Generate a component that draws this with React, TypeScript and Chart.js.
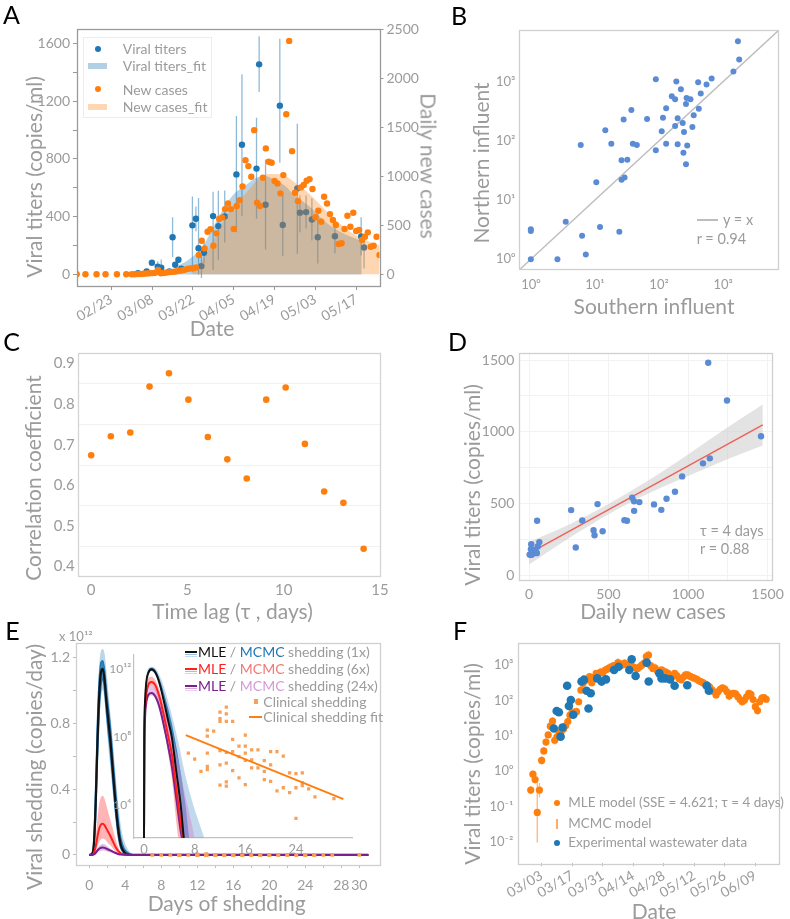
import React, { useEffect, useRef } from 'react';
import { Chart, registerables } from 'chart.js';

Chart.register(...registerables);

const FONT = 'Lato, "Noto Sans", sans-serif';
const TICK_C = '#9b9b9b';
const TITLE_C = '#9b9b9b';
const BLUE = '#1f77b4';
const ORANGE = '#ff7f0e';
const STEEL = '#5b8bd4';

// ---------------- Panel A ----------------
const A_TITER_DAY = [9.1, 12.1, 13.9, 15.9, 17.1, 19.9, 21.0, 21.9, 23.0, 24.0, 27.8, 29.0, 29.9, 30.9, 31.8, 34.9, 36.7, 38.9, 42.9, 44.8, 49.8, 50.7, 52.9, 57.8, 58.8, 63.8, 64.7, 66.8, 68.8, 70.8, 76.7, 85.7, 86.7];
const A_TITER = [9, 21, 81, 53, 46, 21, 258, 67, 102, 40, 340, 386, 182, 58, 150, 404, 335, 402, 693, 899, 733, 1455, 483, 1169, 342, 596, 428, 432, 381, 258, 265, 263, 187];
const A_TITER_LO = [5, 15, 70, 20, 7, 15, 120, 50, 85, 30, 16, 300, 0, -25, 80, 30, 99, 222, 293, 404, 385, 1263, 173, 774, 130, 143, 293, 319, 236, 76, 146, 132, 42];
const A_TITER_HI = [13, 27, 92, 90, 104, 27, 397, 85, 118, 50, 540, 470, 530, 190, 220, 572, 579, 582, 1097, 1386, 1085, 1650, 797, 1633, 560, 1044, 547, 547, 527, 443, 388, 397, 249];
const A_CASE_EARLY_DAY = [-11.9, -8.9, -5.1, -2.0, 1.9, 5.1];
const A_CASE_EARLY = [0, 0, 0, 0, 0, 0];
const A_CASE_FIRST_DAILY = 7;
const A_CASES_DAILY = [0, 0, 2, 3, 5, 8, 10, 12, 15, 45, 10, 14, 18, 22, 25, 28, 35, 38, 45, 55, 60, 62, 70, 197, 343, 265, 435, 460, 292, 419, 565, 582, 667, 725, 667, 463, 698, 759, 899, 1168, 1107, 998, 1475, 732, 698, 988, 1288, 1151, 1141, 954, 930, 828, 1015, 1638, 2388, 1260, 834, 749, 889, 913, 957, 974, 872, 583, 650, 538, 793, 725, 616, 555, 504, 310, 317, 463, 599, 487, 630, 443, 453, 351, 384, 429, 282, 292, 384, 197];
const A_TFIT_DAY = [14, 18, 21, 23.3, 25.6, 27.8, 31.3, 35, 39.2, 42.5, 46.1, 50.6, 53, 56, 59.6, 63, 67.7, 73.4, 79, 85.9];
const A_TFIT = [0, 4, 20, 64, 90, 122, 191, 330, 480, 565, 618, 676, 680, 655, 615, 545, 475, 365, 290, 230];
const A_CFIT_DAY = [27.8, 29, 31.3, 35, 39.2, 42.5, 46.1, 50.6, 54, 58.6, 62, 67.7, 73.4, 79, 84.7, 92];
const A_CFIT = [20, 60, 146, 350, 589, 720, 828, 981, 1025, 1020, 960, 828, 657, 504, 384, 295];
const A_DATE_TICKS = [0, 14, 28, 42, 56, 70, 84];
const A_LEFT_TICKS = [0, 200, 400, 600, 800, 1000, 1200, 1400, 1600];
const A_RIGHT_TICKS = [0, 500, 1000, 1500, 2000, 2500];

// ---------------- Panel B ----------------
const B_SOUTH = [1698, 1778, 1445, 661, 550, 447, 407, 417, 347, 331, 309, 269, 263, 245, 275, 263, 240, 234, 219, 195, 195, 178, 178, 158, 186, 129, 115, 110, 129, 89, 89, 65, 45, 39, 37, 28, 32, 26, 29, 26, 18, 14.5, 10.5, 6, 3.5, 6.3, 7.2, 12, 24, 2.6, 1, 1, 1];
const B_NORTH = [4786, 2344, 1479, 1122, 891, 631, 977, 347, 269, 170, 501, 525, 417, 141, 83, 40, 63, 200, 741, 240, 87, 178, 501, 562, 1000, 355, 245, 145, 89, 69, 1096, 234, 85, 89, 331, 229, 48, 47, 24, 22, 89, 151, 20, 85, 4.3, 2.5, 1.2, 3.5, 2.9, 1, 3.2, 3.0, 1];
const B_IDENTITY = [0.5, 10000];
const B_TICKS = [1, 10, 100, 1000];

// ---------------- Panel C ----------------
const C_LAG = [0, 1.02, 2.03, 3.03, 4.04, 5.05, 6.06, 7.07, 8.08, 9.09, 10.1, 11.1, 12.1, 13.1, 14.15];
const C_R = [0.674, 0.721, 0.730, 0.843, 0.876, 0.811, 0.719, 0.664, 0.617, 0.811, 0.841, 0.702, 0.585, 0.557, 0.444];
const C_X_TICKS = [0, 5, 10, 15];
const C_Y_TICKS = [0.4, 0.45, 0.5, 0.55, 0.6, 0.65, 0.7, 0.75, 0.8, 0.85, 0.9];

// ---------------- Panel D ----------------
const D_CASES = [1127, 1245, 1459, 1137, 1094, 963, 918, 865, 832, 786, 694, 661, 649, 661, 616, 600, 463, 431, 412, 406, 335, 294, 265, 51, 65, 55, 45, 14, 12, 4, 20, 31, 39, 49, 12];
const D_TITER = [1481, 1218, 969, 815, 780, 689, 582, 533, 456, 494, 510, 515, 540, 449, 380, 384, 307, 496, 279, 314, 382, 193, 454, 380, 231, 200, 161, 217, 182, 144, 147, 161, 177, 154, 142];
const D_FIT_X = [0, 1470];
const D_FIT_Y = [152, 1048];
const D_BAND_X = [0, 250, 500, 750, 1000, 1250, 1470];
const D_BAND_LO = [75, 258, 426, 570, 692, 811, 905];
const D_BAND_HI = [232, 352, 496, 660, 842, 1031, 1190];
const D_TICKS = [0, 250, 500, 750, 1000, 1250, 1500];

// ---------------- Panel E ----------------
const E_DAYS = [0, 0.3, 0.5, 0.7, 0.9, 1.1, 1.3, 1.5, 1.7, 1.9, 2.1, 2.3, 2.6, 2.9, 3.2, 3.5, 3.9, 4.5, 5.2, 31];
const E_MLE_1X = [0, 0.005, 0.06, 0.3, 0.68, 0.97, 1.11, 1.13, 1.06, 0.93, 0.82, 0.72, 0.52, 0.32, 0.16, 0.06, 0.015, 0, 0, 0];
const E_MLE_6X = [0, 0.001, 0.012, 0.05, 0.11, 0.16, 0.185, 0.19, 0.18, 0.16, 0.14, 0.12, 0.085, 0.05, 0.025, 0.01, 0.003, 0, 0, 0];
const E_MLE_24X = [0, 0, 0.003, 0.012, 0.027, 0.038, 0.044, 0.045, 0.043, 0.038, 0.033, 0.028, 0.02, 0.012, 0.006, 0.002, 0.001, 0, 0, 0];
const E_MC1_OUT_HI = [0, 0.02, 0.15, 0.5, 0.92, 1.15, 1.24, 1.25, 1.22, 1.12, 1.0, 0.88, 0.7, 0.5, 0.32, 0.18, 0.08, 0.02, 0.004, 0];
const E_MC1_OUT_LO = [0, 0, 0.02, 0.15, 0.45, 0.78, 0.95, 1.0, 0.93, 0.8, 0.66, 0.55, 0.38, 0.22, 0.1, 0.04, 0.008, 0, 0, 0];
const E_MC1_IN_HI = [0, 0.01, 0.09, 0.4, 0.8, 1.06, 1.17, 1.18, 1.12, 1.0, 0.9, 0.8, 0.6, 0.4, 0.22, 0.1, 0.035, 0.006, 0, 0];
const E_MC1_IN_LO = [0, 0, 0.04, 0.22, 0.58, 0.88, 1.03, 1.07, 1.0, 0.87, 0.75, 0.65, 0.46, 0.27, 0.12, 0.04, 0.01, 0, 0, 0];
const E_MC6_HI = [0, 0, 0.02, 0.1, 0.22, 0.31, 0.35, 0.36, 0.34, 0.3, 0.26, 0.22, 0.16, 0.1, 0.05, 0.02, 0.006, 0, 0, 0];
const E_MC6_LO = [0, 0, 0.004, 0.02, 0.05, 0.08, 0.095, 0.1, 0.095, 0.085, 0.07, 0.06, 0.04, 0.02, 0.01, 0.004, 0, 0, 0, 0];
const E_MC24_HI = [0, 0, 0.006, 0.02, 0.04, 0.055, 0.063, 0.066, 0.063, 0.056, 0.048, 0.04, 0.029, 0.018, 0.009, 0.003, 0.001, 0, 0, 0];
const E_MC24_LO = [0, 0, 0.001, 0.006, 0.015, 0.022, 0.026, 0.027, 0.026, 0.023, 0.02, 0.017, 0.012, 0.007, 0.003, 0.001, 0, 0, 0, 0];
const E_X_TICKS = [0, 2, 4, 6, 8, 10, 12, 14, 16, 18, 20, 22, 24, 26, 28, 30];
const E_X_LABELS = [0, 4, 8, 12, 16, 20, 24, 28, 30];
const E_Y_TICKS = [0, 0.2, 0.4, 0.6, 0.8, 1.0, 1.2];
const E_Y_LABELS = [0, 0.4, 0.8, 1.2];
// clinical shedding (log10 copies/day)
const CLIN_DAY = [7, 8, 9, 10, 10, 10, 10, 10, 11, 12, 12, 12, 12, 12, 12, 13, 13, 13, 13, 13, 13, 13, 14, 14, 14, 14, 15, 15, 15, 16, 16, 16, 16, 16, 17, 17, 17, 18, 18, 19, 19, 19, 20, 20, 20, 21, 21, 22, 22, 23, 23, 24, 24, 24, 25, 25, 25, 26, 27, 30];
const CLIN_LOG = [7.07, 6.72, 6.0, 8.42, 8.07, 7.07, 6.30, 6.11, 8.36, 9.48, 9.1, 8.94, 7.22, 6.39, 5.19, 9.77, 9.38, 8.94, 7.11, 6.49, 5.39, 5.14, 8.94, 7.88, 7.16, 6.04, 6.86, 7.48, 5.62, 8.13, 7.48, 7.07, 6.65, 5.23, 7.26, 6.68, 6.20, 7.26, 6.20, 6.63, 6.0, 5.52, 7.16, 6.39, 5.42, 7.16, 4.85, 6.90, 5.04, 5.91, 4.75, 5.87, 5.04, 3.24, 5.91, 5.33, 5.17, 4.98, 4.50, 4.40];
const CLIN_FIT_DAY = [6.6, 31.5];
const CLIN_FIT_LOG = [8.13, 4.37];
// inset (log10)
const IN_DAYS = [0, 0.05, 0.15, 0.35, 0.7, 1.2, 1.8, 2.5, 3.3, 3.8, 4.4, 5.1, 5.8, 6.3];
const IN_MLE_1X = [2, 8.0, 10.0, 11.2, 11.8, 12.0, 11.8, 11.1, 9.85, 9.0, 8.0, 6.0, 4.0, 2.0];
const IN_MLE_6X = [2, 7.5, 9.5, 10.5, 11.1, 11.25, 11.05, 10.3, 9.0, 8.1, 7.0, 5.0, 3.0, 1.5];
const IN_MLE_24X = [2, 7.0, 9.0, 10.0, 10.5, 10.6, 10.4, 9.7, 8.4, 7.5, 6.3, 4.4, 2.5, 1.5];
const IB_DAYS = [0, 0.05, 0.15, 0.35, 0.7, 1.2, 1.8, 2.5, 3.3, 4.4, 5.5, 6.5, 7.5, 8.5, 9.6];
const IB_MC1_OUT_HI = [2, 8.4, 10.4, 11.5, 12.05, 12.15, 12.05, 11.6, 10.8, 9.3, 7.6, 5.8, 4.4, 3.2, 2.0];
const IB_MC1_LO = [2, 7.9, 9.9, 11.1, 11.7, 11.9, 11.7, 11.0, 9.75, 7.7, 4.9, 1.5, 1.5, 1.5, 1.5];
const IB_MC1_IN_HI = [2, 8.2, 10.2, 11.35, 11.95, 12.08, 11.95, 11.4, 10.4, 8.8, 6.6, 4.2, 1.5, 1.5, 1.5];
const IB_MC6_HI = [2, 7.8, 9.8, 11.0, 11.5, 11.55, 11.35, 10.7, 9.6, 7.8, 5.0, 1.5, 1.5, 1.5, 1.5];
const IB_MC6_LO = [2, 7.0, 9.0, 10.2, 10.9, 11.0, 10.7, 9.8, 8.2, 5.6, 2.0, 1.5, 1.5, 1.5, 1.5];
const IB_MC24_HI = [2, 7.4, 9.4, 10.5, 10.9, 11.0, 10.85, 10.4, 9.6, 8.2, 6.5, 4.6, 3.0, 1.5, 1.5];
const IB_MC24_LO = [2, 6.8, 8.8, 9.8, 10.3, 10.45, 10.25, 9.5, 8.2, 6.0, 3.6, 1.5, 1.5, 1.5, 1.5];
const IN_X_TICKS = [0, 8, 16, 24];
const IN_Y_TICKS = [1e4, 1e8, 1e12];

// ---------------- Panel F ----------------
const F_FIRST_DAY = -5; // days after 03/03
const F_MLE_LOG = [-0.54, -0.09, -0.24, -1.17, -0.54,
  0.30, 0.57, 0.82, 1.02, 1.27, 1.41, 0.87, 0.97, 1.08, 1.13,
  1.18, 1.28, 1.40, 1.58, 1.66, 1.67, 1.68, 1.96, 2.29, 2.48,
  2.56, 2.60, 2.67, 2.50, 2.65, 2.76, 2.73, 2.80, 2.78, 2.85,
  2.88, 2.92, 2.95, 2.98, 2.96, 3.07, 3.03, 3.00, 3.05, 3.02,
  3.00, 2.97, 2.95, 2.92, 2.90, 2.95, 3.00, 3.05, 3.24, 3.28,
  2.98, 2.90, 2.92, 2.84, 2.82, 2.86, 2.82, 2.80, 2.76, 2.70,
  2.68, 2.76, 2.70, 2.62, 2.58, 2.66, 2.72, 2.72, 2.68, 2.65,
  2.63, 2.60, 2.56, 2.53, 2.50, 2.46, 2.43, 2.38, 2.30, 2.24,
  2.15, 2.25, 2.32, 2.35, 2.32, 2.24, 2.12, 2.18, 2.20, 2.18,
  2.10, 2.02, 1.96, 2.00, 2.10, 2.20, 2.17, 2.02, 1.82, 1.71,
  1.96, 2.06, 2.08, 2.03];
const F_MCMC_SPREAD = [0.12, 0.1, 0.12, 0.85, 0.2,
  0.12, 0.1, 0.1, 0.1, 0.12, 0.12, 0.12, 0.1, 0.1, 0.1,
  0.1, 0.1, 0.12, 0.1, 0.1, 0.1, 0.12, 0.1, 0.1, 0.12,
  0.1, 0.12, 0.1, 0.1, 0.12, 0.1, 0.1, 0.12, 0.1, 0.1,
  0.1, 0.12, 0.1, 0.1, 0.1, 0.12, 0.1, 0.1, 0.12, 0.1,
  0.1, 0.1, 0.12, 0.1, 0.1, 0.1, 0.12, 0.1, 0.12, 0.12,
  0.1, 0.1, 0.12, 0.1, 0.1, 0.1, 0.12, 0.1, 0.1, 0.12,
  0.1, 0.1, 0.12, 0.1, 0.1, 0.1, 0.12, 0.1, 0.1, 0.12,
  0.1, 0.1, 0.12, 0.1, 0.1, 0.1, 0.12, 0.1, 0.1, 0.12,
  0.1, 0.1, 0.12, 0.1, 0.1, 0.1, 0.12, 0.1, 0.1, 0.12,
  0.1, 0.1, 0.12, 0.1, 0.1, 0.1, 0.12, 0.1, 0.12, 0.12,
  0.1, 0.12, 0.1, 0.1];
const F_EXP_DAY = [5.6, 6.9, 7.9, 8.7, 9.6, 11.7, 12.5, 13.4, 14.5, 18.3, 19.4, 20.6, 21.5, 22.5, 25.5, 27.5, 29.5, 33.2, 35.3, 40.2, 41.3, 43.1, 48.2, 49.1, 54.0, 55.0, 56.6, 58.9, 61.0, 66.8, 75.7, 76.7];
const F_EXP = [16, 50, 46, 9.4, 17, 258, 69, 102, 39, 340, 384, 186, 59, 158, 417, 339, 391, 724, 891, 724, 1450, 490, 1168, 340, 580, 417, 417, 391, 258, 268, 258, 186];
const F_DATE_TICKS = [0, 14, 28, 42, 56, 70, 84, 98];
const F_Y_TICKS = [0.01, 0.1, 1, 10, 100, 1000];

// ---------------- helpers ----------------
const A_BASE = Date.UTC(2020, 1, 23);
const F_BASE = Date.UTC(2020, 2, 3);
const fmtDate = (base: number, d: number) => {
  const t = new Date(base + Math.round(d) * 86400000);
  return String(t.getUTCMonth() + 1).padStart(2, '0') + '/' + String(t.getUTCDate()).padStart(2, '0');
};
const SUP: Record<string, string> = { '0': '⁰', '1': '¹', '2': '²', '3': '³', '4': '⁴', '5': '⁵', '6': '⁶', '7': '⁷', '8': '⁸', '9': '⁹', '-': '⁻' };
const pow10 = (v: number) => '10' + String(Math.round(Math.log10(v))).split('').map((c) => SUP[c]).join('');
const ticksAt = (vals: number[]) => (s: any) => { s.ticks = vals.map((v) => ({ value: v })); };
const pts = (xs: number[], ys: number[]) => xs.map((x, i) => ({ x, y: ys[i] }));
const logPts = (xs: number[], ls: number[]) => xs.map((x, i) => ({ x, y: Math.pow(10, ls[i]) }));
const errSegs = (xs: number[], lo: number[], hi: number[]) => {
  const out: any[] = [];
  xs.forEach((x, i) => { out.push({ x, y: lo[i] }, { x, y: hi[i] }, { x, y: null }); });
  return out;
};
const font = (size: number) => ({ family: FONT, size });
const near = (v: number, list: number[]) => list.some((l) => Math.abs(l - v) < 1e-6);
const NOGRID = { display: false, drawTicks: false };

const framePlugin = {
  id: 'frame',
  afterDatasetsDraw(chart: any, _args: any, opts: any) {
    if (!opts || !opts.color) return;
    const { ctx, chartArea: c } = chart;
    ctx.save();
    ctx.strokeStyle = opts.color;
    ctx.lineWidth = opts.width || 1;
    ctx.strokeRect(Math.round(c.left) + 0.5, Math.round(c.top) + 0.5, Math.round(c.right - c.left), Math.round(c.bottom - c.top));
    ctx.restore();
  },
};
Chart.register(framePlugin);

const baseOpts = (padding: any, scales: any, frame?: string, frameW = 1) => ({
  responsive: false,
  animation: false,
  devicePixelRatio: 1,
  layout: { padding },
  plugins: { legend: { display: false }, tooltip: { enabled: false }, frame: { color: frame, width: frameW } },
  scales,
});

function ChartCanvas({ x, y, w, h, make }: { x: number; y: number; w: number; h: number; make: () => any }) {
  const ref = useRef<HTMLCanvasElement>(null);
  useEffect(() => {
    const chart = new Chart(ref.current as HTMLCanvasElement, make());
    return () => chart.destroy();
  }, []);
  return <canvas ref={ref} width={w} height={h} style={{ position: 'absolute', left: x, top: y, width: w, height: h }} />;
}

function T({ x, y, s = 14, c = TITLE_C, align = 'left', rot = 0, children, style }: any) {
  const tx = align === 'center' ? '-50%' : align === 'right' ? '-100%' : '0';
  return (
    <div style={{ position: 'absolute', left: x, top: y, transform: `translate(${tx},-50%) rotate(${rot}deg)`, fontSize: s, color: c, whiteSpace: 'nowrap', lineHeight: 1, fontFamily: FONT, ...style }}>
      {children}
    </div>
  );
}
const Box = ({ x, y, w, h, bg, style }: any) => <div style={{ position: 'absolute', left: x, top: y, width: w, height: h, background: bg, ...style }} />;
const Dot = ({ x, y, r, bg }: any) => <div style={{ position: 'absolute', left: x - r, top: y - r, width: 2 * r, height: 2 * r, borderRadius: '50%', background: bg }} />;

// ---------------- chart configs ----------------
const makeA = () => ({
  type: 'scatter',
  data: {
    datasets: [
      { type: 'scatter', yAxisID: 'y2', data: [...pts(A_CASE_EARLY_DAY, A_CASE_EARLY), ...A_CASES_DAILY.map((v, i) => ({ x: A_CASE_FIRST_DAILY + i, y: v }))], backgroundColor: ORANGE, borderWidth: 0, pointRadius: 3.2 },
      { type: 'line', yAxisID: 'y2', data: pts(A_CFIT_DAY, A_CFIT), fill: 'origin', backgroundColor: 'rgba(255,127,14,0.32)', borderWidth: 0, pointRadius: 0, cubicInterpolationMode: 'monotone' },
      { type: 'scatter', yAxisID: 'y', data: pts(A_TITER_DAY, A_TITER), backgroundColor: BLUE, borderWidth: 0, pointRadius: 3.2 },
      { type: 'line', yAxisID: 'y', data: errSegs(A_TITER_DAY, A_TITER_LO, A_TITER_HI), borderColor: 'rgba(31,119,180,0.5)', borderWidth: 1.3, pointRadius: 0, spanGaps: false, fill: false },
      { type: 'line', yAxisID: 'y', data: pts(A_TFIT_DAY, A_TFIT), fill: 'origin', backgroundColor: 'rgba(31,119,180,0.33)', borderWidth: 0, pointRadius: 0, cubicInterpolationMode: 'monotone' },
    ],
  },
  options: baseOpts({ left: 23, top: 29, right: 0.5, bottom: 0.5 }, {
    x: {
      type: 'linear', min: -11.8, max: 92, afterBuildTicks: ticksAt(A_DATE_TICKS), afterFit: (s: any) => { s.height = 50.5; },
      ticks: { callback: (v: number) => fmtDate(A_BASE, v), minRotation: 30, maxRotation: 30, autoSkip: false, font: font(14), color: TICK_C, padding: 1 },
      grid: { drawOnChartArea: false, drawTicks: true, tickLength: 4, color: '#999' }, border: { display: false },
    },
    y: {
      position: 'left', min: -80, max: 1700, afterBuildTicks: ticksAt(A_LEFT_TICKS), afterFit: (s: any) => { s.width = 54; },
      ticks: { callback: (v: number) => (v % 400 === 0 ? String(v) : ''), autoSkip: false, font: font(14), color: TICK_C, padding: 3 },
      grid: { drawOnChartArea: false, drawTicks: true, tickLength: 4, color: '#999' }, border: { display: false },
    },
    y2: {
      position: 'right', min: -120, max: 2510, afterBuildTicks: ticksAt(A_RIGHT_TICKS), afterFit: (s: any) => { s.width = 58; },
      ticks: { callback: (v: number) => String(v), autoSkip: false, font: font(14), color: TICK_C, padding: 3 },
      grid: { drawOnChartArea: false, drawTicks: true, tickLength: 4, color: '#999' }, border: { display: false },
    },
  }, '#9a9a9a', 1.3),
});

const makeB = () => ({
  type: 'scatter',
  data: {
    datasets: [
      { type: 'scatter', data: pts(B_SOUTH, B_NORTH), backgroundColor: STEEL, borderWidth: 0, pointRadius: 3 },
      { type: 'line', data: pts(B_IDENTITY, B_IDENTITY), borderColor: '#bdbdbd', borderWidth: 1.4, pointRadius: 0, fill: false },
    ],
  },
  options: baseOpts({ left: 10.5, top: 30, right: 11.7, bottom: 5.5 }, {
    x: {
      type: 'logarithmic', min: Math.pow(10, -0.18), max: Math.pow(10, 3.86), afterBuildTicks: ticksAt(B_TICKS), afterFit: (s: any) => { s.height = 45.2; },
      ticks: { callback: (v: number) => pow10(v), autoSkip: false, maxRotation: 0, font: font(13), color: TICK_C, padding: 8 },
      grid: NOGRID, border: { display: false },
    },
    y: {
      type: 'logarithmic', min: Math.pow(10, -0.17), max: Math.pow(10, 3.87), afterBuildTicks: ticksAt(B_TICKS), afterFit: (s: any) => { s.width = 48.8; },
      ticks: { callback: (v: number) => pow10(v), autoSkip: false, font: font(13), color: TICK_C, padding: 4 },
      grid: NOGRID, border: { display: false },
    },
  }, '#cfcfcf', 1.3),
});

const makeC = () => ({
  type: 'scatter',
  data: { datasets: [{ data: pts(C_LAG, C_R), backgroundColor: ORANGE, borderWidth: 0, pointRadius: 3.3 }] },
  options: baseOpts({ left: 22.2, top: 23.3, right: 20, bottom: 10.5 }, {
    x: {
      type: 'linear', min: -0.7, max: 15, afterBuildTicks: ticksAt(C_X_TICKS), afterFit: (s: any) => { s.height = 43.5; },
      ticks: { autoSkip: false, maxRotation: 0, font: font(15), color: TICK_C, padding: 5 },
      grid: NOGRID, border: { display: false },
    },
    y: {
      type: 'linear', min: 0.377, max: 0.925, afterBuildTicks: ticksAt(C_Y_TICKS), afterFit: (s: any) => { s.width = 55.5; },
      ticks: { callback: (v: number) => (Math.round(v * 100) % 10 === 0 ? v.toFixed(1) : ''), autoSkip: false, font: font(15), color: TICK_C, padding: 3 },
      grid: { drawTicks: false, color: (ctx: any) => (ctx.tick && Math.round(ctx.tick.value * 100) % 10 !== 0 ? '#f1f1f1' : 'rgba(0,0,0,0)') },
      border: { display: false },
    },
  }, '#d4d4d4', 1.3),
});

const makeD = () => ({
  type: 'scatter',
  data: {
    datasets: [
      { type: 'scatter', data: pts(D_CASES, D_TITER), backgroundColor: STEEL, borderWidth: 0, pointRadius: 3.2 },
      { type: 'line', data: pts(D_FIT_X, D_FIT_Y), borderColor: '#f0605a', borderWidth: 1.4, pointRadius: 0, fill: false },
      { type: 'line', data: pts(D_BAND_X, D_BAND_HI), borderWidth: 0, pointRadius: 0, fill: '+1', backgroundColor: 'rgba(200,200,200,0.5)', cubicInterpolationMode: 'monotone' },
      { type: 'line', data: pts(D_BAND_X, D_BAND_LO), borderWidth: 0, pointRadius: 0, fill: false, cubicInterpolationMode: 'monotone' },
    ],
  },
  options: baseOpts({ left: 10.5, top: 23.3, right: 11.7, bottom: 10.5 }, {
    x: {
      type: 'linear', min: -61, max: 1530, afterBuildTicks: ticksAt(D_TICKS), afterFit: (s: any) => { s.height = 39.5; },
      ticks: { callback: (v: number) => (v % 500 === 0 ? String(v) : ''), autoSkip: false, maxRotation: 0, font: font(14), color: TICK_C, padding: 6 },
      grid: { drawTicks: false, color: '#f2f2f2' }, border: { display: false },
    },
    y: {
      type: 'linear', min: -33, max: 1547, afterBuildTicks: ticksAt(D_TICKS), afterFit: (s: any) => { s.width = 58.8; },
      ticks: { callback: (v: number) => (v % 500 === 0 ? String(v) : ''), autoSkip: false, font: font(14), color: TICK_C, padding: 5 },
      grid: { drawTicks: false, color: '#f2f2f2' }, border: { display: false },
    },
  }, '#cfcfcf', 1.3),
});

const eLine = (data: any, color: string, width: number) => ({ type: 'line', data, borderColor: color, borderWidth: width, pointRadius: 0, fill: false, cubicInterpolationMode: 'monotone' });
const eBand = (hi: any, lo: any, color: string, edge = 'rgba(0,0,0,0)', edgeW = 0) => [
  { type: 'line', data: hi, borderColor: edge, borderWidth: edgeW, pointRadius: 0, fill: '+1', backgroundColor: color, cubicInterpolationMode: 'monotone' },
  { type: 'line', data: lo, borderColor: edge, borderWidth: edgeW, pointRadius: 0, fill: false, cubicInterpolationMode: 'monotone' },
];

const makeE = () => ({
  type: 'scatter',
  data: {
    datasets: [
      { type: 'scatter', data: CLIN_DAY.map((d, i) => ({ x: d, y: Math.pow(10, CLIN_LOG[i]) / 1e12 })), pointStyle: 'rect', backgroundColor: '#f8a057', borderWidth: 0, pointRadius: 2.6 },
      eLine(pts(E_DAYS, E_MLE_24X), '#7b1f8e', 2),
      eLine(pts(E_DAYS, E_MLE_6X), '#ff1f1f', 2),
      eLine(pts(E_DAYS, E_MLE_1X), '#111111', 2.2),
      ...eBand(pts(E_DAYS, E_MC24_HI), pts(E_DAYS, E_MC24_LO), 'rgba(190,120,205,0.5)'),
      ...eBand(pts(E_DAYS, E_MC6_HI), pts(E_DAYS, E_MC6_LO), 'rgba(255,90,90,0.45)'),
      ...eBand(pts(E_DAYS, E_MC1_IN_HI), pts(E_DAYS, E_MC1_IN_LO), 'rgba(31,119,180,0.85)', BLUE, 1.5),
      ...eBand(pts(E_DAYS, E_MC1_OUT_HI), pts(E_DAYS, E_MC1_OUT_LO), 'rgba(31,119,180,0.3)'),
    ],
  },
  options: baseOpts({ left: 23, top: 17.7, right: 20, bottom: 7.8 }, {
    x: {
      type: 'linear', min: -1.48, max: 32.3, afterBuildTicks: ticksAt(E_X_TICKS), afterFit: (s: any) => { s.height = 46.2; },
      ticks: { callback: (v: number) => (near(v, E_X_LABELS) ? String(v) : ''), autoSkip: false, maxRotation: 0, font: font(14), color: TICK_C, padding: 9 },
      grid: { drawOnChartArea: false, drawTicks: true, tickLength: 3, color: '#bbb' }, border: { display: false },
    },
    y: {
      type: 'linear', min: -0.061, max: 1.289, afterBuildTicks: ticksAt(E_Y_TICKS), afterFit: (s: any) => { s.width = 53; },
      ticks: { callback: (v: number) => (near(v, E_Y_LABELS) ? (v === 0 ? '0' : v.toFixed(1)) : ''), autoSkip: false, font: font(14), color: TICK_C, padding: 3 },
      grid: { drawOnChartArea: false, drawTicks: true, tickLength: 3, color: '#bbb' }, border: { display: false },
    },
  }, '#cfcfcf', 1.3),
});

const inLine = (xs: number[], ls: number[], color: string, width: number) => ({ ...eLine(logPts(xs, ls), color, width), clip: 0 });
const inBand = (hi: number[], lo: number[], color: string) => eBand(logPts(IB_DAYS, hi), logPts(IB_DAYS, lo), color).map((d) => ({ ...d, clip: 0 }));

const makeInset = () => ({
  type: 'scatter',
  data: {
    datasets: [
      { type: 'line', data: logPts(CLIN_FIT_DAY, CLIN_FIT_LOG), borderColor: ORANGE, borderWidth: 2, pointRadius: 0, fill: false },
      { type: 'scatter', data: logPts(CLIN_DAY, CLIN_LOG), pointStyle: 'rect', backgroundColor: '#f8a057', borderWidth: 0, pointRadius: 2.3 },
      inLine(IN_DAYS, IN_MLE_1X, '#111111', 2),
      inLine(IN_DAYS, IN_MLE_6X, '#ff1f1f', 2),
      inLine(IN_DAYS, IN_MLE_24X, '#7b1f8e', 2),
      ...inBand(IB_MC24_HI, IB_MC24_LO, 'rgba(205,150,215,0.55)'),
      ...inBand(IB_MC6_HI, IB_MC6_LO, 'rgba(245,120,120,0.55)'),
      ...inBand(IB_MC1_IN_HI, IB_MC1_LO, 'rgba(31,119,180,0.85)'),
      ...inBand(IB_MC1_OUT_HI, IB_MC1_LO, 'rgba(120,170,215,0.45)'),
    ],
  },
  options: baseOpts({ left: 0, top: 8.3, right: 7.3, bottom: 0 }, {
    x: {
      type: 'linear', display: true, min: -1.69, max: 32.96, afterBuildTicks: ticksAt(IN_X_TICKS), afterFit: (s: any) => { s.height = 22; },
      ticks: { callback: (v: number) => String(v), autoSkip: false, maxRotation: 0, font: font(13), color: TICK_C, padding: 4 },
      grid: NOGRID, border: { display: true, color: '#c2c2c2', width: 1.2 },
    },
    y: {
      type: 'logarithmic', min: Math.pow(10, 2.09), max: Math.pow(10, 12.88), afterBuildTicks: ticksAt(IN_Y_TICKS), afterFit: (s: any) => { s.width = 33.3; },
      ticks: { callback: (v: number) => pow10(v), autoSkip: false, font: font(12), color: TICK_C, padding: 2 },
      grid: NOGRID, border: { display: true, color: '#c2c2c2', width: 1.2 },
    },
  }),
});

const makeF = () => {
  const days = F_MLE_LOG.map((_, i) => F_FIRST_DAY + i);
  const lo = F_MLE_LOG.map((v, i) => v - F_MCMC_SPREAD[i]);
  const hi = F_MLE_LOG.map((v, i) => v + F_MCMC_SPREAD[i]);
  const err: any[] = [];
  days.forEach((d, i) => { err.push({ x: d, y: Math.pow(10, lo[i]) }, { x: d, y: Math.pow(10, hi[i]) }, { x: d, y: null }); });
  return {
    type: 'scatter',
    data: {
      datasets: [
        { type: 'scatter', data: pts(F_EXP_DAY, F_EXP), backgroundColor: BLUE, borderWidth: 0, pointRadius: 4.3 },
        { type: 'scatter', data: logPts(days, F_MLE_LOG), backgroundColor: ORANGE, borderWidth: 0, pointRadius: 3.6 },
        { type: 'line', data: err, borderColor: 'rgba(255,150,60,0.7)', borderWidth: 1.3, pointRadius: 0, spanGaps: false, fill: false },
      ],
    },
    options: baseOpts({ left: 10.5, top: 17.7, right: 10.7, bottom: 0 }, {
      x: {
        type: 'linear', min: -10.7, max: 109, afterBuildTicks: ticksAt(F_DATE_TICKS), afterFit: (s: any) => { s.height = 55.7; },
        ticks: { callback: (v: number) => fmtDate(F_BASE, v), minRotation: 30, maxRotation: 30, autoSkip: false, font: font(14), color: TICK_C, padding: 1 },
        grid: { drawOnChartArea: false, drawTicks: true, tickLength: 3, color: '#bbb' }, border: { display: false },
      },
      y: {
        type: 'logarithmic', min: Math.pow(10, -2.61), max: Math.pow(10, 3.63), afterBuildTicks: ticksAt(F_Y_TICKS), afterFit: (s: any) => { s.width = 57.8; },
        ticks: { callback: (v: number) => pow10(v), autoSkip: false, font: font(13), color: TICK_C, padding: 5 },
        grid: NOGRID, border: { display: false },
      },
    }, '#cfcfcf', 1.3),
  };
};

const TS = 21; // axis title size
const LETTER = 25;

export default function App() {
  return (
    <div style={{ position: 'absolute', left: 0, top: 0, width: 790, height: 919, background: '#fff', fontFamily: FONT, overflow: 'hidden' }}>
      {/* Panel A */}
      <ChartCanvas x={0} y={0} w={438} h={337} make={makeA} />
      <T x={11.5} y={14} s={LETTER} c="#000" align="center">A</T>
      <T x={32.5} y={177} s={TS} align="center" rot={-90}>Viral titers (copies/ml)</T>
      <T x={429} y={166} s={TS} align="center" rot={90}>Daily new cases</T>
      <T x={212} y={327} s={TS} align="center">Date</T>
      <Box x={82.7} y={36.7} w={129} h={81.6} bg="rgba(255,255,255,0.85)" style={{ border: '1px solid #ececec', boxSizing: 'border-box' }} />
      <Dot x={97.7} y={49} r={3} bg={BLUE} />
      <T x={122.7} y={49} s={14}>Viral titers</T>
      <Box x={88} y={63} w={19} h={6} bg="rgba(31,119,180,0.35)" />
      <T x={122.7} y={66} s={14}>Viral titers_fit</T>
      <Dot x={97.7} y={89.3} r={3} bg={ORANGE} />
      <T x={122.7} y={89.5} s={14}>New cases</T>
      <Box x={88} y={104} w={19} h={6} bg="rgba(255,127,14,0.32)" />
      <T x={122.7} y={107} s={14}>New cases_fit</T>

      {/* Panel B */}
      <ChartCanvas x={460} y={0} w={330} h={320} make={makeB} />
      <T x={459} y={15} s={LETTER} c="#000" align="center">B</T>
      <T x={480} y={162.5} s={TS} align="center" rot={-90}>Northern influent</T>
      <T x={654} y={305} s={TS} align="center">Southern influent</T>
      <Box x={696.7} y={219.3} w={21.6} h={1.4} bg="#bdbdbd" />
      <T x={723} y={220} s={14.5}>y = x</T>
      <T x={696.7} y={239.3} s={14.5}>r = 0.94</T>

      {/* Panel C */}
      <ChartCanvas x={0} y={330} w={400} h={300} make={makeC} />
      <T x={11.5} y={341} s={LETTER} c="#000" align="center">C</T>
      <T x={31.7} y={477.5} s={TS} align="center" rot={-90}>Correlation coefficient</T>
      <T x={232.5} y={610} s={TS} align="center">Time lag (τ , days)</T>

      {/* Panel D */}
      <ChartCanvas x={450} y={330} w={340} h={300} make={makeD} />
      <T x={457.5} y={341} s={LETTER} c="#000" align="center">D</T>
      <T x={471} y={485} s={TS} align="center" rot={-90}>Viral titers (copies/ml)</T>
      <T x={653} y={610} s={TS} align="center">Daily new cases</T>
      <T x={700} y={530.7} s={14.5}>τ = 4 days</T>
      <T x={700} y={549.3} s={14.5}>r = 0.88</T>

      {/* Panel E */}
      <ChartCanvas x={0} y={625} w={400} h={294} make={makeE} />
      <ChartCanvas x={100} y={645} w={260} h={215} make={makeInset} />
      <T x={12.5} y={630} s={LETTER} c="#000" align="center">E</T>
      <T x={32.5} y={766.7} s={TS} align="center" rot={-90}>Viral shedding (copies/day)</T>
      <T x={226.7} y={901.7} s={TS} align="center">Days of shedding</T>
      <T x={59} y={636} s={13} c={TICK_C}>x 10¹²</T>
      <Box x={185} y={650.5} w={12} h={2} bg="#111" />
      <Box x={185} y={653.5} w={12} h={1.3} bg="#9cc3e4" />
      <Box x={185} y={655.5} w={12} h={1.3} bg="#c4dcef" />
      <T x={198} y={651.7} s={14}><span style={{ color: '#111' }}>MLE</span> / <span style={{ color: BLUE }}>MCMC</span> shedding (1x)</T>
      <Box x={185} y={667.5} w={12} h={2} bg="#ff1f1f" />
      <Box x={185} y={670.5} w={12} h={1.3} bg="#f7a0a0" />
      <Box x={185} y={672.5} w={12} h={1.3} bg="#fbc8c8" />
      <T x={198} y={669} s={14}><span style={{ color: '#ff1f1f' }}>MLE</span> / <span style={{ color: '#f07878' }}>MCMC</span> shedding (6x)</T>
      <Box x={185} y={684.5} w={12} h={2} bg="#7b1f8e" />
      <Box x={185} y={687.5} w={12} h={1.3} bg="#d9a8df" />
      <Box x={185} y={689.5} w={12} h={1.3} bg="#ead0ee" />
      <T x={198} y={686} s={14}><span style={{ color: '#7b1f8e' }}>MLE</span> / <span style={{ color: '#d59ad8' }}>MCMC</span> shedding (24x)</T>
      <Box x={253.7} y={699.4} w={4.6} h={4.6} bg="#f8a057" />
      <T x={263.3} y={701.7} s={14}>Clinical shedding</T>
      <Box x={249} y={715.5} w={13} h={2.5} bg={ORANGE} />
      <T x={263.3} y={716.7} s={14}>Clinical shedding fit</T>

      {/* Panel F */}
      <ChartCanvas x={450} y={625} w={340} h={294} make={makeF} />
      <T x={460} y={630} s={LETTER} c="#000" align="center">F</T>
      <T x={471} y={763.5} s={TS} align="center" rot={-90}>Viral titers (copies/ml)</T>
      <T x={654} y={910} s={TS} align="center">Date</T>
      <Dot x={556.7} y={803.3} r={3.2} bg={ORANGE} />
      <T x={568.3} y={803.3} s={13.5}>MLE model (SSE = 4.621; τ = 4 days)</T>
      <Box x={556} y={819} w={1.5} h={10} bg="rgba(255,150,60,0.8)" />
      <T x={568.3} y={824} s={13.5}>MCMC model</T>
      <Dot x={556.7} y={843.3} r={3.2} bg={BLUE} />
      <T x={568.3} y={843.3} s={13.5}>Experimental wastewater data</T>
    </div>
  );
}
